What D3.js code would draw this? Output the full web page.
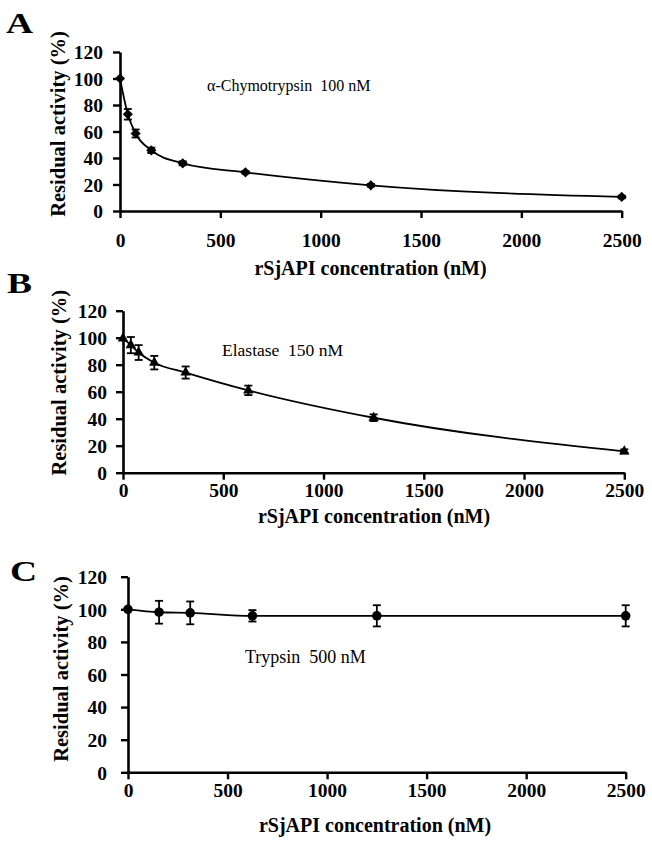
<!DOCTYPE html>
<html>
<head>
<meta charset="utf-8">
<script src="https://cdn.jsdelivr.net/npm/d3@7"></script>
<style>
  html, body { margin: 0; padding: 0; background: #fff; }
  svg { display: block; }
</style>
</head>
<body>
<svg id="chart" width="652" height="841"></svg>
<script>
// ---------- data ----------
const xTicks = [0, 500, 1000, 1500, 2000, 2500];
const yTicks = [0, 20, 40, 60, 80, 100, 120];
const xTitle = "rSjAPI concentration (nM)";
const yTitle = "Residual activity (%)";

const concA = [0, 39, 78, 156, 312.5, 625, 1250, 2500];
const valuesA = [100, 73, 58.5, 45.8, 36, 29.2, 19.4, 10.6];
const errA = [0, 4, 3, 2, 1.5, 1, 1, 1];
const noteA = "α-Chymotrypsin  100 nM";

const concB = [0, 39, 78, 156, 312.5, 625, 1250, 2500];
const valuesB = [99.5, 94.5, 89, 81.5, 74.2, 61, 40.7, 15.8];
const errB = [0, 6, 5.5, 5, 4.5, 3.5, 2.5, 1.5];
const noteB = "Elastase  150 nM";

const concC = [0, 156, 312.5, 625, 1250, 2500];
const valuesC = [100, 98.2, 97.8, 96, 96, 96];
const errC = [0, 7, 7, 3.5, 6.5, 6.5];
const noteC = "Trypsin  500 nM";

const panelLetters = ["A", "B", "C"];

// ---------- layout ----------
const FONT = "'Liberation Serif','Times New Roman',Times,serif";
const panels = [
  { letter: panelLetters[0], conc: concA, vals: valuesA, err: errA, note: noteA, marker: "diamond",
    left: 120, right: 621.7, top: 52, bottom: 211, xLabOff: 36, yLabPad: 10,
    yTitleX: 65, yTitleC: 124, xTitleX: 370.5, xTitleY: 275,
    letterX: 6, letterY: 33, noteX: 207, noteY: 90.5, noteFs: 16 },
  { letter: panelLetters[1], conc: concB, vals: valuesB, err: errB, note: noteB, marker: "triangle",
    left: 123, right: 624.3, top: 310.7, bottom: 472.7, xLabOff: 24, yLabPad: 9,
    yTitleX: 66, yTitleC: 382.7, xTitleX: 374, xTitleY: 523,
    letterX: 7, letterY: 293, noteX: 222, noteY: 356, noteFs: 17.5 },
  { letter: panelLetters[2], conc: concC, vals: valuesC, err: errC, note: noteC, marker: "circle",
    left: 128, right: 625.7, top: 576.7, bottom: 772.3, xLabOff: 24.3, yLabPad: 14,
    yTitleX: 68, yTitleC: 669, xTitleX: 375, xTitleY: 832,
    letterX: 10, letterY: 581, noteX: 245, noteY: 663, noteFs: 18 }
];

const svg = d3.select("#chart");

panels.forEach(p => {
  const g = svg.append("g");
  const x = d3.scaleLinear().domain([0, 2500]).range([p.left, p.right]);
  const y = d3.scaleLinear().domain([0, 120]).range([p.bottom, p.top]);

  // axes
  const xa = g.append("g").attr("transform", `translate(0,${p.bottom})`)
    .call(d3.axisBottom(x).tickValues(xTicks).tickSize(7).tickSizeOuter(0).tickFormat(d3.format("d")));
  const ya = g.append("g").attr("transform", `translate(${p.left},0)`)
    .call(d3.axisLeft(y).tickValues(yTicks).tickSize(7).tickSizeOuter(0).tickPadding(p.yLabPad));
  [xa, ya].forEach(a => {
    a.select(".domain").attr("stroke", "#000").attr("stroke-width", 2.6);
    a.selectAll(".tick line").attr("stroke", "#000").attr("stroke-width", 2.4);
    a.selectAll(".tick text").attr("fill", "#000")
      .style("font-family", FONT).style("font-weight", "bold").style("font-size", "19.5px");
  });
  xa.selectAll(".tick text").attr("dy", null).attr("y", p.xLabOff);
  ya.selectAll(".tick text").attr("dy", "0.35em");

  // fitted curve
  const line = d3.line().x((d, i) => x(p.conc[i])).y(d => y(d)).curve(d3.curveMonotoneX);
  g.append("path").datum(p.vals).attr("d", line)
    .attr("fill", "none").attr("stroke", "#000").attr("stroke-width", 1.8);

  // error bars
  const cap = 4;
  p.vals.forEach((v, i) => {
    const e = p.err[i];
    if (!e) return;
    const cx = x(p.conc[i]);
    const eg = g.append("g").attr("stroke", "#000").attr("stroke-width", 1.8);
    eg.append("line").attr("x1", cx).attr("x2", cx).attr("y1", y(v - e)).attr("y2", y(v + e));
    eg.append("line").attr("x1", cx - cap).attr("x2", cx + cap).attr("y1", y(v + e)).attr("y2", y(v + e));
    eg.append("line").attr("x1", cx - cap).attr("x2", cx + cap).attr("y1", y(v - e)).attr("y2", y(v - e));
  });

  // markers
  let sym, rot = 0;
  if (p.marker === "diamond") { sym = d3.symbol().type(d3.symbolSquare).size(52); rot = 45; }
  else if (p.marker === "triangle") { sym = d3.symbol().type(d3.symbolTriangle).size(48); }
  else { sym = d3.symbol().type(d3.symbolCircle).size(72); }
  g.selectAll("path.mk").data(p.vals).enter().append("path").attr("class", "mk")
    .attr("d", sym)
    .attr("transform", (d, i) => `translate(${x(p.conc[i])},${y(d)}) rotate(${rot})`)
    .attr("fill", "#000");

  // titles
  g.append("text").attr("x", p.xTitleX).attr("y", p.xTitleY).attr("text-anchor", "middle")
    .style("font-family", FONT).style("font-weight", "bold").style("font-size", "20px").text(xTitle);
  g.append("text").attr("transform", `translate(${p.yTitleX},${p.yTitleC}) rotate(-90)`)
    .attr("text-anchor", "middle")
    .style("font-family", FONT).style("font-weight", "bold").style("font-size", "20.5px").text(yTitle);

  // panel letter
  g.append("text").attr("transform", `translate(${p.letterX},${p.letterY}) scale(1.25,1)`)
    .style("font-family", FONT).style("font-weight", "bold").style("font-size", "30px").text(p.letter);

  // annotation
  g.append("text").attr("x", p.noteX).attr("y", p.noteY).attr("xml:space", "preserve")
    .style("white-space", "pre")
    .style("font-family", FONT).style("font-size", p.noteFs + "px").text(p.note);
});
</script>
</body>
</html>
